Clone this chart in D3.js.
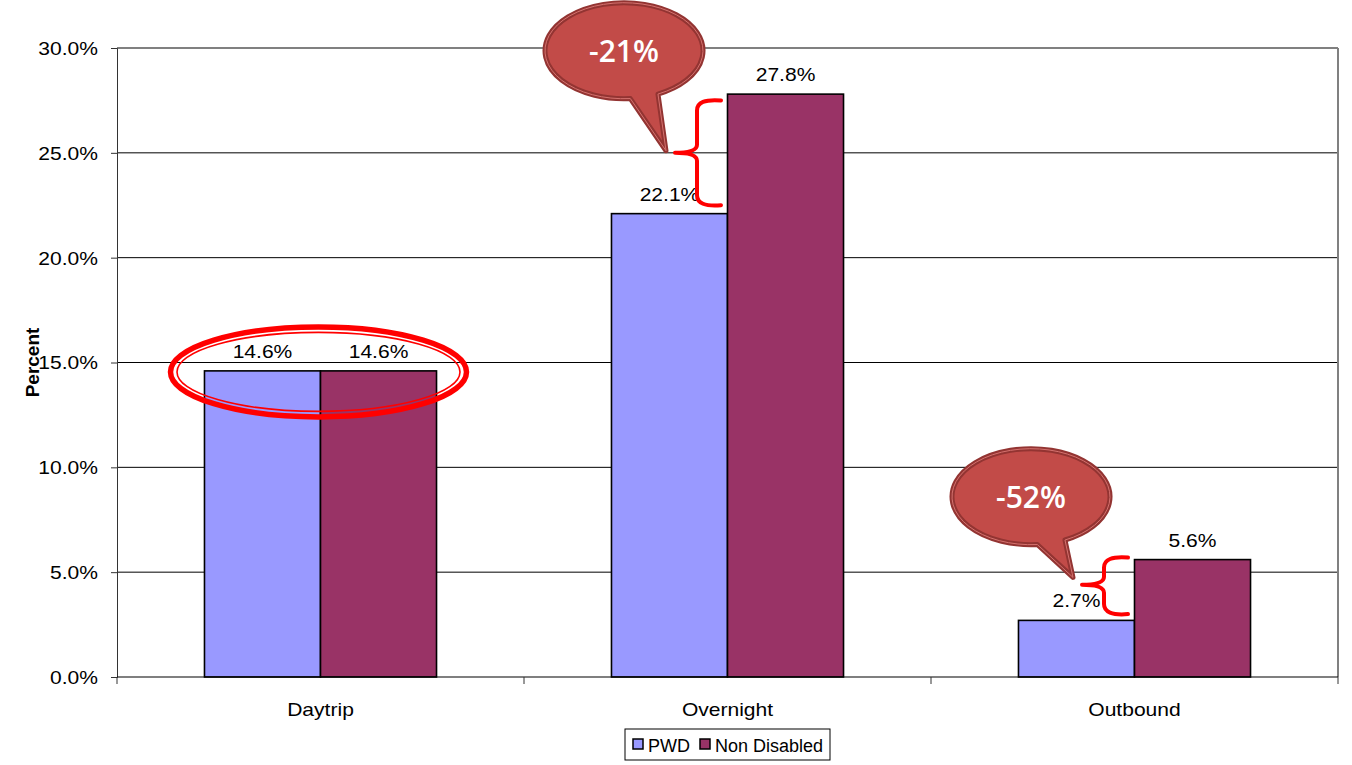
<!DOCTYPE html>
<html>
<head>
<meta charset="utf-8">
<script src="https://cdn.jsdelivr.net/npm/d3@7"></script>
<style>
  body { margin: 0; background: #fff; }
  text { font-family: "Liberation Sans", Arial, sans-serif; fill: #000; }
</style>
</head>
<body>
<svg id="chart"></svg>
<script>
// data
const categories = ['Daytrip', 'Overnight', 'Outbound'];
const series = ['PWD', 'Non Disabled'];
const pwd = [14.6, 22.1, 2.7];
const nonDisabled = [14.6, 27.8, 5.6];
const yTicks = [0, 5, 10, 15, 20, 25, 30];
const colors = ['#9999FF', '#993366'];

// callouts: [category, text, bubble value, tip value, bracket top, bracket bottom, bracket mid]
const callouts = [
  ['Overnight', '-21%', 29.87, 25.1, 27.5, 22.5, 25.0],
  ['Outbound', '-52%', 8.6, 4.75, 5.7, 3.0, 4.4]
];
const circled = 'Daytrip';

const W = 1352, H = 765;
const margin = { top: 48, right: 14, bottom: 88, left: 117 };
const width = W - margin.left - margin.right;
const height = H - margin.top - margin.bottom;
const SX = 1.17; // text in the picture is stretched wide

const svg = d3.select('#chart').attr('width', W).attr('height', H);
const g = svg.append('g').attr('transform', `translate(${margin.left},${margin.top})`);

const x = d3.scaleBand().domain(categories).range([0, width]);
const xs = d3.scaleBand().domain(series).range([0, x.bandwidth()]).paddingOuter(0.754);
const y = d3.scaleLinear().domain([0, 30]).range([height, 0]);

function label(sel, px, py, s, opts = {}) {
  const t = sel.append('g').attr('transform', `translate(${px},${py}) scale(${opts.sx || SX},1)`)
    .append('text')
    .attr('text-anchor', opts.anchor || 'middle')
    .attr('font-size', opts.size || 18)
    .text(s);
  if (opts.fill) t.style('fill', opts.fill);
  if (opts.family) t.style('font-family', opts.family);
  if (opts.weight) t.attr('font-weight', opts.weight);
  return t;
}

// gridlines
g.append('g').selectAll('line')
  .data(yTicks.filter(d => d > 0))
  .enter().append('line')
  .attr('x1', 0).attr('x2', width)
  .attr('y1', d => y(d)).attr('y2', d => y(d))
  .attr('stroke', d => d === 30 ? '#808080' : '#000')
  .attr('stroke-width', d => d === 30 ? 2 : 1);

// right border
g.append('line')
  .attr('x1', width).attr('x2', width).attr('y1', y(30)).attr('y2', height)
  .attr('stroke', '#808080').attr('stroke-width', 2);

// y axis
const yAxis = g.append('g')
  .call(d3.axisLeft(y).tickValues(yTicks).tickSize(6).tickFormat(d => d.toFixed(1) + '%'));
yAxis.select('.domain').attr('stroke', '#333');
yAxis.selectAll('line').attr('stroke', '#333');
yAxis.selectAll('text')
  .attr('font-size', 18).attr('font-family', null)
  .attr('x', -19 / SX).attr('transform', `scale(${SX},1)`)
  .attr('dy', '0.36em');

svg.append('text')
  .attr('transform', `translate(39,${margin.top + height / 2}) rotate(-90)`)
  .attr('text-anchor', 'middle')
  .attr('font-size', 19).attr('font-weight', 'bold')
  .text('Percent');

// bars
const rows = categories.map((c, i) => ({ cat: c, vals: [pwd[i], nonDisabled[i]] }));
const cg = g.selectAll('.cat').data(rows).enter().append('g')
  .attr('transform', d => `translate(${x(d.cat)},0)`);

cg.selectAll('rect')
  .data(d => d.vals.map((v, j) => ({ s: series[j], v, j })))
  .enter().append('rect')
  .attr('x', d => xs(d.s))
  .attr('y', d => y(d.v))
  .attr('width', xs.bandwidth())
  .attr('height', d => height - y(d.v))
  .attr('fill', d => colors[d.j])
  .attr('stroke', '#000').attr('stroke-width', 1.6);

cg.each(function (d) {
  d.vals.forEach((v, j) => {
    label(d3.select(this), xs(series[j]) + xs.bandwidth() / 2, y(v) - 13, v.toFixed(1) + '%');
  });
});

// x axis
g.append('line').attr('x1', 0).attr('x2', width).attr('y1', height).attr('y2', height)
  .attr('stroke', '#000').attr('stroke-width', 1.2);
g.append('g').selectAll('line')
  .data(categories.map(c => x(c)).concat([width]))
  .enter().append('line')
  .attr('x1', d => d).attr('x2', d => d)
  .attr('y1', height).attr('y2', height + 7)
  .attr('stroke', '#333');
categories.forEach(c => label(g, x(c) + x.bandwidth() / 2, height + 39, c));

// red ellipse round the equal bars
const ex = x(circled) + x.bandwidth() / 2 - 2;
const ey = y(14.6) + 1;
g.append('ellipse').attr('cx', ex).attr('cy', ey).attr('rx', 148).attr('ry', 45)
  .attr('fill', 'none').attr('stroke', '#FF0000').attr('stroke-width', 5.5);
g.append('ellipse').attr('cx', ex).attr('cy', ey).attr('rx', 141.5).attr('ry', 39.5)
  .attr('fill', 'none').attr('stroke', '#FF0000').attr('stroke-width', 1.6);

// brackets and speech bubbles
callouts.forEach(([cat, txt, bv, tv, top, bot, mid]) => {
  const x0 = x(cat);
  const bx = x0 + 173, nx = x0 + 151;
  const t = y(top), b = y(bot), m = y(mid);
  g.append('path')
    .attr('d', `M${bx + 24},${t} Q${bx},${t - 2} ${bx},${t + 10} L${bx},${m - 8} Q${bx},${m} ${nx},${m}` +
      ` M${nx},${m} Q${bx},${m} ${bx},${m + 8} L${bx},${b - 10} Q${bx},${b + 2} ${bx + 24},${b}`)
    .attr('fill', 'none').attr('stroke', '#FF0000').attr('stroke-width', 4)
    .attr('stroke-linecap', 'round').attr('stroke-linejoin', 'round');

  const cx = x0 + 100, cy = y(bv), rx = 79, ry = 48;
  const a1 = Math.acos(0.08), a2 = Math.acos(0.43);
  const p1 = [cx + rx * Math.cos(a1), cy + ry * Math.sin(a1)];
  const p2 = [cx + rx * Math.cos(a2), cy + ry * Math.sin(a2)];
  const tip = [x0 + 142, y(tv)];
  const d = `M${p1[0]},${p1[1]} A${rx},${ry} 0 1 1 ${p2[0]},${p2[1]} L${tip[0]},${tip[1]} Z`;
  g.append('path').attr('d', d).attr('fill', '#C24B48')
    .attr('stroke', '#933432').attr('stroke-width', 5).attr('stroke-linejoin', 'round');
  g.append('path').attr('d', d).attr('fill', 'none')
    .attr('stroke', '#D5726F').attr('stroke-width', 1);
  label(g, cx, cy + 11, txt, { size: 30, sx: 1.0, fill: '#fff', weight: 600, family: '"Open Sans", sans-serif' });
});

// legend
const lg = svg.append('g').attr('transform', 'translate(625,729)');
lg.append('rect').attr('width', 205).attr('height', 31)
  .attr('fill', '#fff').attr('stroke', '#000').attr('stroke-width', 1);
const lx = [8, 75];
series.forEach((s, i) => {
  lg.append('rect').attr('x', lx[i]).attr('y', 10).attr('width', 10).attr('height', 10)
    .attr('fill', colors[i]).attr('stroke', '#000').attr('stroke-width', 1.5);
  label(lg, lx[i] + 15, 23, s, { anchor: 'start', size: 18, sx: 1.0 });
});
</script>
</body>
</html>
